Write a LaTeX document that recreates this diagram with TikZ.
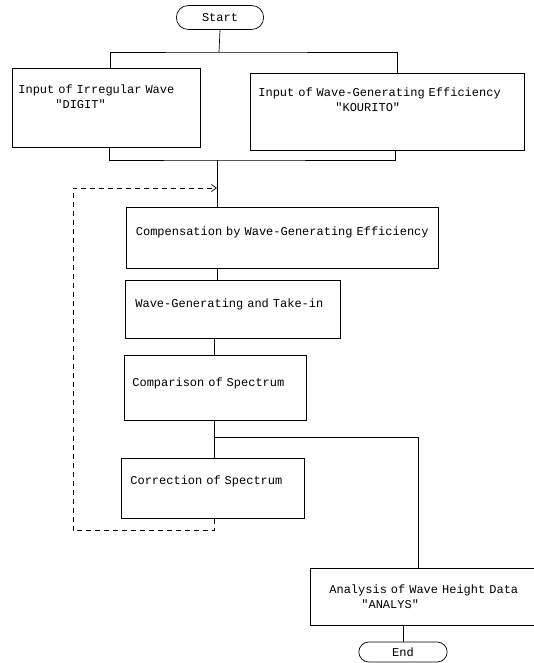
\documentclass[tikz,border=0pt]{standalone}
\usepackage{fontspec}
\setmonofont{Liberation Mono}
\usetikzlibrary{shapes.misc,arrows.meta}
\tikzset{
  flowtext/.style={font=\ttfamily\fontsize{12}{15}\selectfont},
  terminal/.style={draw, rounded rectangle, flowtext, minimum height=24pt},
  procbox/.style={draw, rectangle, anchor=north west, align=left, flowtext, inner ysep=0pt},
  link/.style={draw, line width=0.7pt},
  feedback/.style={link, dash pattern=on 5pt off 4pt, -{Straight Barb[length=5pt,width=7pt]}},
}
\begin{document}
\begin{tikzpicture}[x=1pt,y=-1pt,line width=0.7pt]
  \useasboundingbox (0,0) rectangle (534,663);

  % terminals
  \node[terminal, minimum width=94pt] (start) at (220,17.5) {Start};
  \node[terminal, minimum width=95pt, minimum height=20pt] (ende) at (403,652) {End};

  % input boxes
  \node[procbox, inner xsep=6pt, text width=176pt, minimum height=79pt, text depth=38pt] (inL) at (12,68)
    {Input of Irregular Wave\\\hspace*{37pt}"DIGIT"};
  \node[procbox, inner xsep=8pt, text width=258pt, minimum height=77pt, text depth=40pt] (inR) at (250,73)
    {Input of Wave-Generating Efficiency\\\hspace*{77pt}"KOURITO"};

  % main chain
  \node[procbox, inner xsep=9.5pt, text width=293pt, minimum height=61pt, text depth=14pt] (comp) at (126,207)
    {Compensation by Wave-Generating Efficiency};
  \node[procbox, inner xsep=10pt, text width=195pt, minimum height=58pt, text depth=13pt] (wave) at (125,280)
    {Wave-Generating and Take-in};
  \node[procbox, inner xsep=8pt, text width=166pt, minimum height=65pt, text depth=12pt] (cmp) at (124,355)
    {Comparison of Spectrum};
  \node[procbox, inner xsep=9pt, text width=165pt, minimum height=60pt, text depth=16pt] (corr) at (121,458)
    {Correction of Spectrum};
  \node[procbox, inner xsep=19pt, text width=202pt, minimum height=57pt] (ana) at (310,568)
    {Analysis of Wave Height Data\\\hspace*{32pt}"ANALYS"};

  % junctions
  \coordinate (split) at (219,52);
  \coordinate (merge) at (217,160);
  \coordinate (loopin) at (217,188);
  \coordinate (back) at (73,188);
  \coordinate (branch) at (214,437);

  % connectors
  \draw[link] (start.south) -- (split);
  \draw[link] ([xshift=4pt]inL.north) |- (split) -| ([xshift=10pt]inR.north);
  \draw[link] ([xshift=3pt]inL.south) |- (merge) -| ([xshift=8pt]inR.south);
  \draw[link] (merge) -- (merge |- comp.north);
  \draw[link] (merge |- comp.south) -- (merge |- wave.north);
  \draw[link] (branch |- wave.south) -- (branch |- cmp.north);
  \draw[link] (branch |- cmp.south) -- (branch |- corr.north);
  \draw[link] (branch) -| ([xshift=-12pt]ana.north);
  \draw[link] (ana.south -| ende.north) -- (ende.north);
  \draw[feedback] (branch |- corr.south) -- ++(0,12) -| (back) -- (loopin);
\end{tikzpicture}
\end{document}
